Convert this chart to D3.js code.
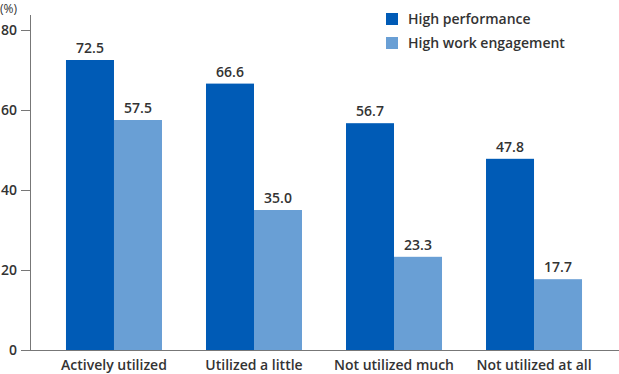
<!DOCTYPE html>
<html>
<head>
<meta charset="utf-8">
<script src="https://cdn.jsdelivr.net/npm/d3@7"></script>
<style>
  body { margin: 0; background: #fff; }
  text { font-family: "Open Sans", "Noto Sans", sans-serif; fill: #333; }
</style>
</head>
<body>
<div id="vis"></div>
<script>
// data
const categories = ["Actively utilized", "Utilized a little", "Not utilized much", "Not utilized at all"];
const seriesNames = ["High performance", "High work engagement"];
const highPerformance = [72.5, 66.6, 56.7, 47.8];
const highEngagement = [57.5, 35.0, 23.3, 17.7];
const yTicks = [0, 20, 40, 60, 80];
const colors = ["#005bb6", "#699fd5"];

const width = 619, height = 374;

const svg = d3.select("#vis")
  .append("svg")
    .attr("width", width)
    .attr("height", height);

const data = categories.map((c, i) => ({ cat: c, values: [highPerformance[i], highEngagement[i]] }));

// scales
const x0 = d3.scaleBand()
    .domain(categories)
    .range([44, 604])
    .paddingInner(0.3143)
    .paddingOuter(0.157);
const x1 = d3.scaleBand()
    .domain([0, 1])
    .range([0, x0.bandwidth()]);
const y = d3.scaleLinear()
    .domain([0, 80])
    .range([350, 30]);

// y axis
const yAxis = svg.append("g")
    .attr("transform", "translate(30,0)")
    .call(d3.axisLeft(y).tickValues(yTicks).tickSize(9).tickPadding(4));
yAxis.select(".domain").remove();
yAxis.selectAll(".tick line").attr("stroke", "#777");
yAxis.selectAll(".tick text")
    .style("font-family", "'Open Sans', 'Noto Sans', sans-serif")
    .style("font-size", "14px")
    .style("font-weight", "600")
    .attr("fill", "#333");
svg.append("line")
    .attr("x1", 30.5).attr("x2", 30.5)
    .attr("y1", 15).attr("y2", 350)
    .attr("stroke", "#777");
svg.append("text")
    .attr("x", 0).attr("y", 13)
    .style("font-size", "12px")
    .text("(%)");

// bars
const groups = svg.append("g")
  .selectAll("g")
  .data(data)
  .join("g")
    .attr("transform", d => `translate(${x0(d.cat)},0)`);

groups.selectAll("rect")
  .data(d => d.values)
  .join("rect")
    .attr("x", (d, i) => x1(i))
    .attr("y", d => y(d))
    .attr("width", x1.bandwidth())
    .attr("height", d => y(0) - y(d))
    .attr("fill", (d, i) => colors[i]);

groups.selectAll("text.val")
  .data(d => d.values)
  .join("text")
    .attr("class", "val")
    .attr("x", (d, i) => x1(i) + x1.bandwidth() / 2)
    .attr("y", d => y(d) - 7)
    .attr("text-anchor", "middle")
    .style("font-size", "14px")
    .style("font-weight", "600")
    .text(d => d.toFixed(1));

// baseline
svg.append("line")
    .attr("x1", 30).attr("x2", 619)
    .attr("y1", 350.5).attr("y2", 350.5)
    .attr("stroke", "#777");

// category labels
svg.append("g")
  .selectAll("text")
  .data(categories)
  .join("text")
    .attr("x", d => x0(d) + x0.bandwidth() / 2)
    .attr("y", 370)
    .attr("text-anchor", "middle")
    .style("font-size", "14px")
    .style("font-weight", "600")
    .text(d => d);

// legend
seriesNames.forEach((name, i) => {
  svg.append("rect")
      .attr("x", 386).attr("y", 13 + i * 24)
      .attr("width", 12).attr("height", 12)
      .attr("fill", colors[i]);
  svg.append("text")
      .attr("x", 408).attr("y", 24 + i * 24)
      .style("font-size", "14px")
      .style("font-weight", "600")
      .text(name);
});
</script>
</body>
</html>
